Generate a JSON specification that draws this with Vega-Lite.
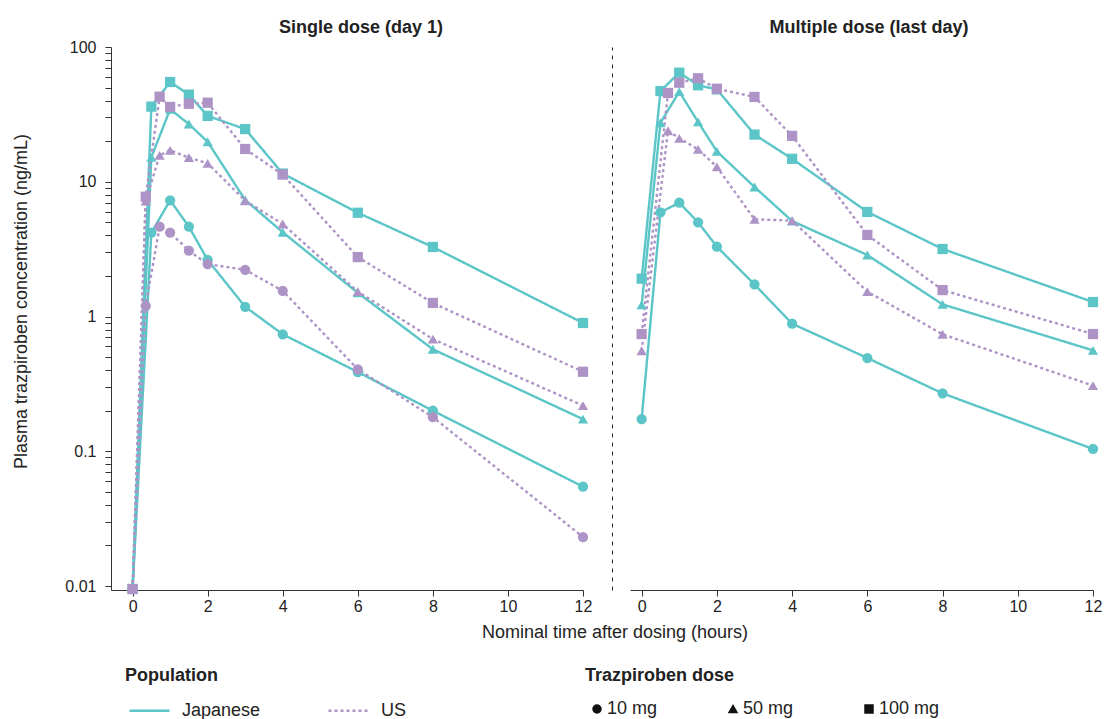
{
  "$schema": "https://vega.github.io/schema/vega-lite/v6.json",
  "padding": {"left": 12, "top": 19, "right": 5, "bottom": 5},
  "bounds": "flush",
  "spacing": 47,
  "config": {
    "font": "Liberation Sans",
    "view": {"stroke": null},
    "axis": {"labelFontSize": 16, "titleFontSize": 18, "titleFontWeight": "normal", "labelColor": "#222222", "titleColor": "#222222", "tickSize": 6, "domainColor": "#333333", "tickColor": "#333333", "grid": false, "labelPadding": 2},
    "legend": {"titleFontSize": 18, "labelFontSize": 18, "titleColor": "#222222", "labelColor": "#222222", "titleFontWeight": "bold", "padding": 0},
    "title": {"fontSize": 18, "fontWeight": "bold", "color": "#222222", "offset": 2}
  },
  "resolve": {"scale": {"x": "independent", "y": "independent", "color": "shared", "strokeDash": "shared", "shape": "shared"}},
  "data": {"values": [
    {"panel": "SD", "population": "Japanese", "dose": "10 mg", "time": 0, "conc": 0.0095},
    {"panel": "SD", "population": "Japanese", "dose": "10 mg", "time": 0.5, "conc": 4.19},
    {"panel": "SD", "population": "Japanese", "dose": "10 mg", "time": 1, "conc": 7.28},
    {"panel": "SD", "population": "Japanese", "dose": "10 mg", "time": 1.5, "conc": 4.64},
    {"panel": "SD", "population": "Japanese", "dose": "10 mg", "time": 2, "conc": 2.63},
    {"panel": "SD", "population": "Japanese", "dose": "10 mg", "time": 3, "conc": 1.18},
    {"panel": "SD", "population": "Japanese", "dose": "10 mg", "time": 4, "conc": 0.738},
    {"panel": "SD", "population": "Japanese", "dose": "10 mg", "time": 6, "conc": 0.387},
    {"panel": "SD", "population": "Japanese", "dose": "10 mg", "time": 8, "conc": 0.2},
    {"panel": "SD", "population": "Japanese", "dose": "10 mg", "time": 12, "conc": 0.0546},
    {"panel": "SD", "population": "Japanese", "dose": "50 mg", "time": 0, "conc": 0.0095},
    {"panel": "SD", "population": "Japanese", "dose": "50 mg", "time": 0.5, "conc": 15.2},
    {"panel": "SD", "population": "Japanese", "dose": "50 mg", "time": 1, "conc": 34.5},
    {"panel": "SD", "population": "Japanese", "dose": "50 mg", "time": 1.5, "conc": 26.8},
    {"panel": "SD", "population": "Japanese", "dose": "50 mg", "time": 2, "conc": 19.8},
    {"panel": "SD", "population": "Japanese", "dose": "50 mg", "time": 3, "conc": 7.32},
    {"panel": "SD", "population": "Japanese", "dose": "50 mg", "time": 4, "conc": 4.22},
    {"panel": "SD", "population": "Japanese", "dose": "50 mg", "time": 6, "conc": 1.5},
    {"panel": "SD", "population": "Japanese", "dose": "50 mg", "time": 8, "conc": 0.571},
    {"panel": "SD", "population": "Japanese", "dose": "50 mg", "time": 12, "conc": 0.173},
    {"panel": "SD", "population": "Japanese", "dose": "100 mg", "time": 0, "conc": 0.0095},
    {"panel": "SD", "population": "Japanese", "dose": "100 mg", "time": 0.5, "conc": 36.1},
    {"panel": "SD", "population": "Japanese", "dose": "100 mg", "time": 1, "conc": 55.0},
    {"panel": "SD", "population": "Japanese", "dose": "100 mg", "time": 1.5, "conc": 44.3},
    {"panel": "SD", "population": "Japanese", "dose": "100 mg", "time": 2, "conc": 30.8},
    {"panel": "SD", "population": "Japanese", "dose": "100 mg", "time": 3, "conc": 24.6},
    {"panel": "SD", "population": "Japanese", "dose": "100 mg", "time": 4, "conc": 11.5},
    {"panel": "SD", "population": "Japanese", "dose": "100 mg", "time": 6, "conc": 5.89},
    {"panel": "SD", "population": "Japanese", "dose": "100 mg", "time": 8, "conc": 3.28},
    {"panel": "SD", "population": "Japanese", "dose": "100 mg", "time": 12, "conc": 0.895},
    {"panel": "SD", "population": "US", "dose": "10 mg", "time": 0, "conc": 0.0095},
    {"panel": "SD", "population": "US", "dose": "10 mg", "time": 0.35, "conc": 1.2},
    {"panel": "SD", "population": "US", "dose": "10 mg", "time": 0.72, "conc": 4.64},
    {"panel": "SD", "population": "US", "dose": "10 mg", "time": 1, "conc": 4.19},
    {"panel": "SD", "population": "US", "dose": "10 mg", "time": 1.5, "conc": 3.08},
    {"panel": "SD", "population": "US", "dose": "10 mg", "time": 2, "conc": 2.45},
    {"panel": "SD", "population": "US", "dose": "10 mg", "time": 3, "conc": 2.22},
    {"panel": "SD", "population": "US", "dose": "10 mg", "time": 4, "conc": 1.55},
    {"panel": "SD", "population": "US", "dose": "10 mg", "time": 6, "conc": 0.406},
    {"panel": "SD", "population": "US", "dose": "10 mg", "time": 8, "conc": 0.179},
    {"panel": "SD", "population": "US", "dose": "10 mg", "time": 12, "conc": 0.0231},
    {"panel": "SD", "population": "US", "dose": "50 mg", "time": 0, "conc": 0.0095},
    {"panel": "SD", "population": "US", "dose": "50 mg", "time": 0.35, "conc": 7.2},
    {"panel": "SD", "population": "US", "dose": "50 mg", "time": 0.72, "conc": 15.7},
    {"panel": "SD", "population": "US", "dose": "50 mg", "time": 1, "conc": 17.1},
    {"panel": "SD", "population": "US", "dose": "50 mg", "time": 1.5, "conc": 15.1},
    {"panel": "SD", "population": "US", "dose": "50 mg", "time": 2, "conc": 13.7},
    {"panel": "SD", "population": "US", "dose": "50 mg", "time": 3, "conc": 7.23},
    {"panel": "SD", "population": "US", "dose": "50 mg", "time": 4, "conc": 4.86},
    {"panel": "SD", "population": "US", "dose": "50 mg", "time": 6, "conc": 1.53},
    {"panel": "SD", "population": "US", "dose": "50 mg", "time": 8, "conc": 0.68},
    {"panel": "SD", "population": "US", "dose": "50 mg", "time": 12, "conc": 0.218},
    {"panel": "SD", "population": "US", "dose": "100 mg", "time": 0, "conc": 0.0095},
    {"panel": "SD", "population": "US", "dose": "100 mg", "time": 0.35, "conc": 7.74},
    {"panel": "SD", "population": "US", "dose": "100 mg", "time": 0.72, "conc": 42.8},
    {"panel": "SD", "population": "US", "dose": "100 mg", "time": 1, "conc": 35.9},
    {"panel": "SD", "population": "US", "dose": "100 mg", "time": 1.5, "conc": 37.9},
    {"panel": "SD", "population": "US", "dose": "100 mg", "time": 2, "conc": 38.6},
    {"panel": "SD", "population": "US", "dose": "100 mg", "time": 3, "conc": 17.5},
    {"panel": "SD", "population": "US", "dose": "100 mg", "time": 4, "conc": 11.3},
    {"panel": "SD", "population": "US", "dose": "100 mg", "time": 6, "conc": 2.76},
    {"panel": "SD", "population": "US", "dose": "100 mg", "time": 8, "conc": 1.26},
    {"panel": "SD", "population": "US", "dose": "100 mg", "time": 12, "conc": 0.389},
    {"panel": "MD", "population": "Japanese", "dose": "10 mg", "time": 0, "conc": 0.173},
    {"panel": "MD", "population": "Japanese", "dose": "10 mg", "time": 0.5, "conc": 5.93},
    {"panel": "MD", "population": "Japanese", "dose": "10 mg", "time": 1, "conc": 6.99},
    {"panel": "MD", "population": "Japanese", "dose": "10 mg", "time": 1.5, "conc": 5.0},
    {"panel": "MD", "population": "Japanese", "dose": "10 mg", "time": 2, "conc": 3.3},
    {"panel": "MD", "population": "Japanese", "dose": "10 mg", "time": 3, "conc": 1.73},
    {"panel": "MD", "population": "Japanese", "dose": "10 mg", "time": 4, "conc": 0.885},
    {"panel": "MD", "population": "Japanese", "dose": "10 mg", "time": 6, "conc": 0.492},
    {"panel": "MD", "population": "Japanese", "dose": "10 mg", "time": 8, "conc": 0.269},
    {"panel": "MD", "population": "Japanese", "dose": "10 mg", "time": 12, "conc": 0.104},
    {"panel": "MD", "population": "Japanese", "dose": "50 mg", "time": 0, "conc": 1.22},
    {"panel": "MD", "population": "Japanese", "dose": "50 mg", "time": 0.5, "conc": 27.4},
    {"panel": "MD", "population": "Japanese", "dose": "50 mg", "time": 1, "conc": 46.6},
    {"panel": "MD", "population": "Japanese", "dose": "50 mg", "time": 1.5, "conc": 27.8},
    {"panel": "MD", "population": "Japanese", "dose": "50 mg", "time": 2, "conc": 16.8},
    {"panel": "MD", "population": "Japanese", "dose": "50 mg", "time": 3, "conc": 9.14},
    {"panel": "MD", "population": "Japanese", "dose": "50 mg", "time": 4, "conc": 5.11},
    {"panel": "MD", "population": "Japanese", "dose": "50 mg", "time": 6, "conc": 2.86},
    {"panel": "MD", "population": "Japanese", "dose": "50 mg", "time": 8, "conc": 1.23},
    {"panel": "MD", "population": "Japanese", "dose": "50 mg", "time": 12, "conc": 0.561},
    {"panel": "MD", "population": "Japanese", "dose": "100 mg", "time": 0, "conc": 1.91},
    {"panel": "MD", "population": "Japanese", "dose": "100 mg", "time": 0.5, "conc": 47.1},
    {"panel": "MD", "population": "Japanese", "dose": "100 mg", "time": 1, "conc": 64.5},
    {"panel": "MD", "population": "Japanese", "dose": "100 mg", "time": 1.5, "conc": 52.0},
    {"panel": "MD", "population": "Japanese", "dose": "100 mg", "time": 2, "conc": 48.5},
    {"panel": "MD", "population": "Japanese", "dose": "100 mg", "time": 3, "conc": 22.4},
    {"panel": "MD", "population": "Japanese", "dose": "100 mg", "time": 4, "conc": 14.8},
    {"panel": "MD", "population": "Japanese", "dose": "100 mg", "time": 6, "conc": 5.97},
    {"panel": "MD", "population": "Japanese", "dose": "100 mg", "time": 8, "conc": 3.17},
    {"panel": "MD", "population": "Japanese", "dose": "100 mg", "time": 12, "conc": 1.28},
    {"panel": "MD", "population": "US", "dose": "50 mg", "time": 0, "conc": 0.557},
    {"panel": "MD", "population": "US", "dose": "50 mg", "time": 0.7, "conc": 23.9},
    {"panel": "MD", "population": "US", "dose": "50 mg", "time": 1, "conc": 21.0},
    {"panel": "MD", "population": "US", "dose": "50 mg", "time": 1.5, "conc": 17.4},
    {"panel": "MD", "population": "US", "dose": "50 mg", "time": 2, "conc": 12.9},
    {"panel": "MD", "population": "US", "dose": "50 mg", "time": 3, "conc": 5.26},
    {"panel": "MD", "population": "US", "dose": "50 mg", "time": 4, "conc": 5.15},
    {"panel": "MD", "population": "US", "dose": "50 mg", "time": 6, "conc": 1.53},
    {"panel": "MD", "population": "US", "dose": "50 mg", "time": 8, "conc": 0.738},
    {"panel": "MD", "population": "US", "dose": "50 mg", "time": 12, "conc": 0.307},
    {"panel": "MD", "population": "US", "dose": "100 mg", "time": 0, "conc": 0.741},
    {"panel": "MD", "population": "US", "dose": "100 mg", "time": 0.7, "conc": 45.6},
    {"panel": "MD", "population": "US", "dose": "100 mg", "time": 1, "conc": 54.3},
    {"panel": "MD", "population": "US", "dose": "100 mg", "time": 1.5, "conc": 58.6},
    {"panel": "MD", "population": "US", "dose": "100 mg", "time": 2, "conc": 49.0},
    {"panel": "MD", "population": "US", "dose": "100 mg", "time": 3, "conc": 42.6},
    {"panel": "MD", "population": "US", "dose": "100 mg", "time": 4, "conc": 21.9},
    {"panel": "MD", "population": "US", "dose": "100 mg", "time": 6, "conc": 4.03},
    {"panel": "MD", "population": "US", "dose": "100 mg", "time": 8, "conc": 1.57},
    {"panel": "MD", "population": "US", "dose": "100 mg", "time": 12, "conc": 0.741}
  ]},
  "hconcat": [
    {
      "width": 472, "height": 543,
      "title": {"text": "Single dose (day 1)", "dx": 14},
      "transform": [{"filter": "datum.panel === 'SD'"}],
      "encoding": {
        "x": {"field": "time", "type": "quantitative", "scale": {"domain": [-0.575, 12], "nice": false, "zero": false},
              "axis": {"values": [0, 2, 4, 6, 8, 10, 12], "labelFlush": false, "title": "Nominal time after dosing (hours)", "titleX": 503.5, "titleY": 33, "titleAlign": "center", "titleBaseline": "top"}},
        "y": {"field": "conc", "type": "quantitative", "scale": {"type": "log", "domain": [0.00934, 100], "nice": false},
              "axis": {"values": [0.01, 0.02, 0.03, 0.04, 0.05, 0.06, 0.07, 0.08, 0.09, 0.1, 0.2, 0.3, 0.4, 0.5, 0.6, 0.7, 0.8, 0.9, 1, 2, 3, 4, 5, 6, 7, 8, 9, 10, 20, 30, 40, 50, 60, 70, 80, 90, 100],
                       "labelExpr": "indexof([0.01, 0.1, 1, 10, 100], datum.value) >= 0 ? format(datum.value, '~g') : ''",
                       "labelOverlap": false, "labelFlush": false, "labelPadding": 9, "titlePadding": 34, "titleY": 254,
                       "title": "Plasma trazpiroben concentration (ng/mL)"}}
      },
      "layer": [
        {
          "mark": {"type": "line", "strokeWidth": 2.4},
          "encoding": {
            "color": {"field": "population", "type": "nominal", "scale": {"domain": ["Japanese", "US"], "range": ["#5bc5c8", "#ae94c6"]},
                      "legend": {"title": "Population", "orient": "none", "legendX": 14, "legendY": 620, "direction": "horizontal", "symbolType": "stroke", "symbolSize": 1600, "symbolStrokeWidth": 2.5, "symbolOffset": 3, "labelOffset": 11, "columnPadding": 62, "titlePadding": 4}},
            "strokeDash": {"field": "population", "type": "nominal", "scale": {"domain": ["Japanese", "US"], "range": [[1, 0], [3, 3]]},
                      "legend": {"title": "Population", "orient": "none", "legendX": 14, "legendY": 620, "direction": "horizontal", "symbolType": "stroke", "symbolSize": 1600, "symbolStrokeWidth": 2.5, "symbolOffset": 3, "labelOffset": 11, "columnPadding": 62, "titlePadding": 4}},
            "detail": {"field": "dose"}
          }
        },
        {
          "mark": {"type": "point", "filled": true, "opacity": 1, "size": 105},
          "encoding": {
            "color": {"field": "population", "type": "nominal", "legend": null},
            "shape": {"field": "dose", "type": "nominal", "scale": {"domain": ["10 mg", "50 mg", "100 mg"], "range": ["circle", "triangle-up", "square"]},
                      "legend": {"title": "Trazpiroben dose", "orient": "none", "legendX": 474, "legendY": 620, "direction": "horizontal", "symbolSize": 64, "symbolFillColor": "#111111", "symbolStrokeColor": "#111111", "symbolOffset": 3, "labelOffset": 1, "columnPadding": 63, "titlePadding": 15}}
          }
        }
      ]
    },
    {
      "width": 463, "height": 543,
      "title": {"text": "Multiple dose (last day)", "dx": 7.5, "offset": 10},
      "transform": [{"filter": "datum.panel === 'MD'"}],
      "encoding": {
        "x": {"field": "time", "type": "quantitative", "scale": {"domain": [-0.31, 12], "nice": false, "zero": false},
              "axis": {"values": [0, 2, 4, 6, 8, 10, 12], "labelFlush": false, "title": null}},
        "y": {"field": "conc", "type": "quantitative", "scale": {"type": "log", "domain": [0.00934, 100], "nice": false},
              "axis": {"title": null, "labels": false, "ticks": false, "offset": 18, "domainDash": [4, 5], "domainColor": "#222222"}}
      },
      "layer": [
        {
          "mark": {"type": "line", "strokeWidth": 2.4},
          "encoding": {
            "color": {"field": "population", "type": "nominal", "legend": {"title": "Population", "orient": "none", "legendX": 14, "legendY": 620, "direction": "horizontal", "symbolType": "stroke", "symbolSize": 1600, "symbolStrokeWidth": 2.5, "symbolOffset": 3, "labelOffset": 11, "columnPadding": 62, "titlePadding": 4}},
            "strokeDash": {"field": "population", "type": "nominal", "legend": {"title": "Population", "orient": "none", "legendX": 14, "legendY": 620, "direction": "horizontal", "symbolType": "stroke", "symbolSize": 1600, "symbolStrokeWidth": 2.5, "symbolOffset": 3, "labelOffset": 11, "columnPadding": 62, "titlePadding": 4}},
            "detail": {"field": "dose"}
          }
        },
        {
          "mark": {"type": "point", "filled": true, "opacity": 1, "size": 105},
          "encoding": {
            "color": {"field": "population", "type": "nominal", "legend": null},
            "shape": {"field": "dose", "type": "nominal", "legend": {"title": "Trazpiroben dose", "orient": "none", "legendX": 474, "legendY": 620, "direction": "horizontal", "symbolSize": 64, "symbolFillColor": "#111111", "symbolStrokeColor": "#111111", "symbolOffset": 3, "labelOffset": 1, "columnPadding": 63, "titlePadding": 15}}
          }
        }
      ]
    }
  ]
}
